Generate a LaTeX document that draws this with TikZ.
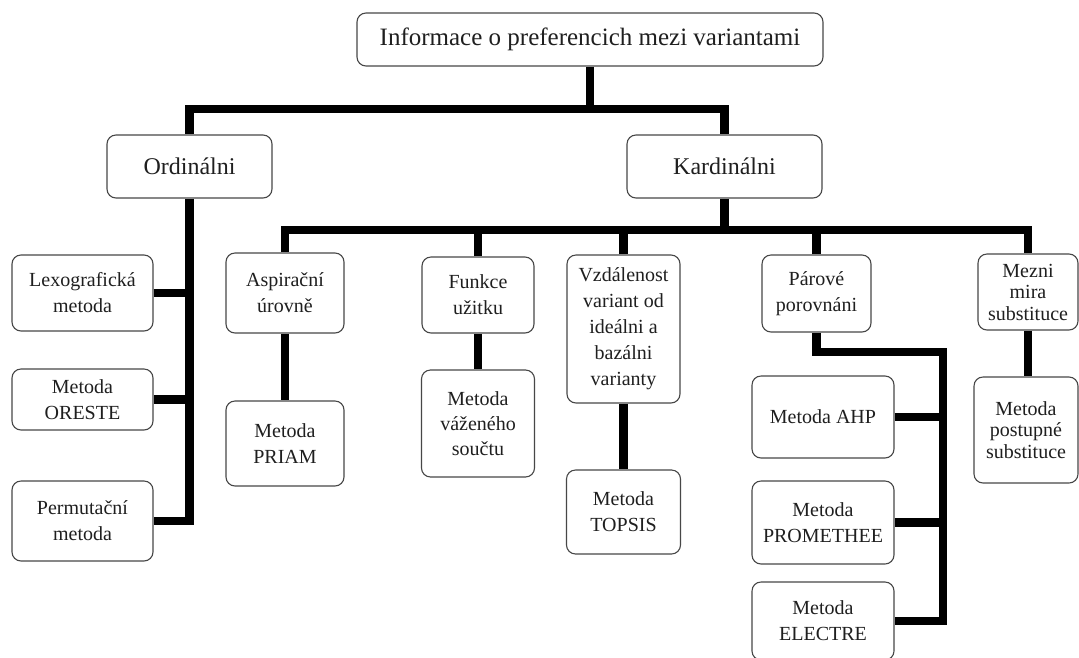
\documentclass[tikz,border=0pt]{standalone}
\usepackage{fontspec}
\setmainfont{Liberation Serif}
\usetikzlibrary{backgrounds}
\begin{document}
\begin{tikzpicture}[x=1pt,y=-1pt,
  box/.style={draw=black!72, line width=1.1pt, rounded corners=9pt, fill=white,
    align=center, inner sep=0pt, text=black!88,
    font=\fontsize{20}{26}\selectfont},
  tight/.style={font=\fontsize{20}{21.5}\selectfont},
  big/.style={font=\fontsize{24}{28}\selectfont},
  link/.style={line width=8.5pt, black, line join=miter}]
\useasboundingbox (0,0) rectangle (1079,657);

\node[box, font=\fontsize{25}{30}\selectfont, minimum width=466, minimum height=53] (top) at (590,39.5) {Informace o preferencich mezi variantami};
\node[box, big, minimum width=165, minimum height=63] (ord) at (189.5,166.5) {Ordinálni};
\node[box, big, minimum width=195, minimum height=63] (kard) at (724.5,166.5) {Kardinálni};

\node[box, minimum width=141, minimum height=76] (lex) at (82.5,293) {Lexografická\\metoda};
\node[box, minimum width=141, minimum height=61] (ore) at (82.5,399.5) {Metoda\\ORESTE};
\node[box, minimum width=141, minimum height=80] (perm) at (82.5,521) {Permutační\\metoda};

\node[box, minimum width=118, minimum height=80] (asp) at (285,293) {Aspirační\\úrovně};
\node[box, minimum width=118, minimum height=85] (priam) at (285,443.5) {Metoda\\PRIAM};

\node[box, minimum width=112, minimum height=76] (fun) at (478,295) {Funkce\\užitku};
\node[box, font=\fontsize{20}{25}\selectfont, minimum width=113, minimum height=107] (vaz) at (478,423.5) {Metoda\\váženého\\součtu};

\node[box, minimum width=113, minimum height=148] (vzd) at (623.5,329) {Vzdálenost\\variant od\\ideálni a\\bazálni\\varianty};
\node[box, minimum width=114, minimum height=84] (tops) at (623.5,512) {Metoda\\TOPSIS};

\node[box, minimum width=109, minimum height=77] (par) at (816.5,293.5) {Párové\\porovnáni};
\node[box, minimum width=142, minimum height=82] (ahp) at (823,417) {Metoda AHP};
\node[box, minimum width=142, minimum height=83] (prom) at (823,522.5) {Metoda\\PROMETHEE};
\node[box, minimum width=142, minimum height=78] (ele) at (823,621) {Metoda\\ELECTRE};

\node[box, tight, minimum width=100, minimum height=76] (mez) at (1028,292) {Mezni\\mira\\substituce};
\node[box, tight, minimum width=104, minimum height=106] (pos) at (1026,430) {Metoda\\postupné\\substituce};

\coordinate (b1) at (0,109);
\coordinate (b2) at (0,230);
\coordinate (pv) at (943,352);

\begin{pgfonlayer}{background}
  \fill[white] (0,0) rectangle (1079,657);
  \draw[link] (top.south) -- (top.south |- b1);
  \draw[link] (ord.north) |- (kard.north |- b1) -- (kard.north);

  \draw[link] (ord.south) |- (perm.east);
  \draw[link] (lex.east) -- (lex.east -| ord.south);
  \draw[link] (ore.east) -- (ore.east -| ord.south);

  \draw[link] (kard.south) -- (kard.south |- b2);
  \draw[link] (asp.north) |- (mez.north |- b2) -- (mez.north);
  \draw[link] (fun.north) -- (fun.north |- b2);
  \draw[link] (vzd.north) -- (vzd.north |- b2);
  \draw[link] (par.north) -- (par.north |- b2);

  \draw[link] (asp.south) -- (priam.north);
  \draw[link] (fun.south) -- (vaz.north);
  \draw[link] (vzd.south) -- (tops.north);
  \draw[link] (mez.south) -- (mez.south |- pos.north);

  \draw[link] (par.south) |- (pv) |- (ele.east);
  \draw[link] (ahp.east) -- (ahp.east -| pv);
  \draw[link] (prom.east) -- (prom.east -| pv);
\end{pgfonlayer}
\end{tikzpicture}
\end{document}
